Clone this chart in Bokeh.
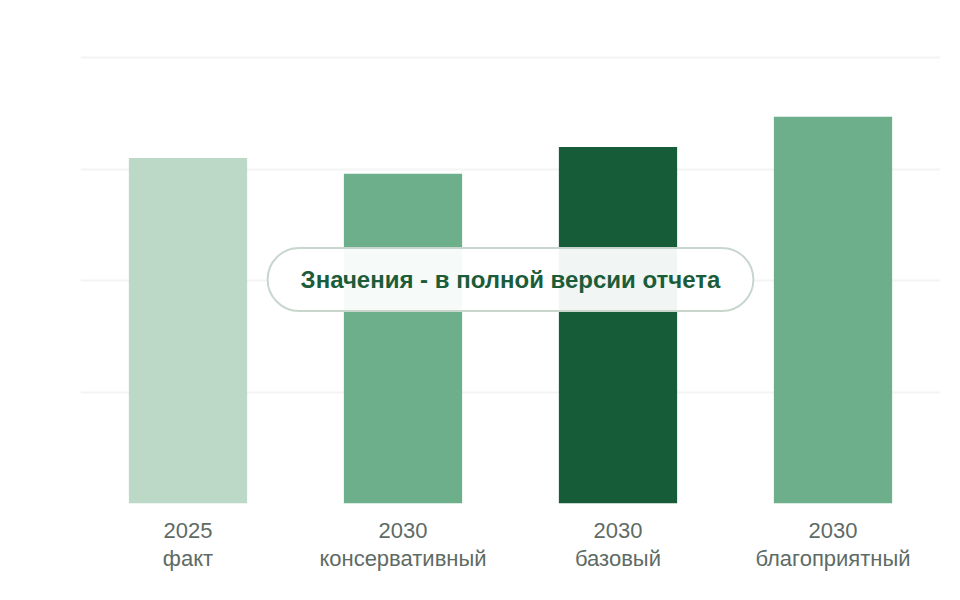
from bokeh.plotting import figure
from bokeh.models import ColumnDataSource, Label, FixedTicker
from bokeh.embed import file_html
from bokeh.resources import INLINE

# categories (year + scenario) and bar heights
years = ['2025', '2030', '2030', '2030']
scenarios = ['факт', 'консервативный', 'базовый', 'благоприятный']
values = [3.10, 2.96, 3.20, 3.47]
colors = ['#bcd9c7', '#6daf8a', '#165c38', '#6daf8a']
grid_ticks = [0, 1, 2, 3, 4]

cats = [y + '\n' + s for y, s in zip(years, scenarios)]
source = ColumnDataSource(data=dict(cat=cats, val=values, color=colors))

p = figure(
    width=944,
    height=584,
    x_range=cats,
    y_range=(0, 4.02),
    output_backend="svg",
    toolbar_location=None,
    min_border_left=80,
    min_border_right=4,
    min_border_top=55,
    min_border_bottom=81,
)

p.vbar(x='cat', top='val', width=0.55, color='color', line_width=0, source=source)

# axes: only category labels, no lines
p.yaxis.visible = False
p.xaxis.axis_line_color = None
p.xaxis.major_tick_line_color = None
p.xaxis.minor_tick_line_color = None
p.xaxis.major_label_text_font = 'Liberation Sans'
p.xaxis.major_label_text_font_size = '22px'
p.xaxis.major_label_text_color = '#5e6b65'
p.xaxis.major_label_text_line_height = 1.12
p.xaxis.major_label_standoff = 8

p.xgrid.grid_line_color = None
p.ygrid.ticker = FixedTicker(ticks=grid_ticks)
p.ygrid.grid_line_color = '#f3f4f3'
p.ygrid.grid_line_width = 2
p.outline_line_color = None

# overlay pill in the middle (screen units are relative to the plot frame)
note = Label(
    x=430, y=224, x_units='screen', y_units='screen',
    text='Значения - в полной версии отчета',
    text_font='Liberation Sans', text_font_style='bold',
    text_font_size='24px', text_color='#1b5c3a',
    text_align='center', text_baseline='middle',
    background_fill_color='white', background_fill_alpha=0.94,
    border_line_color='#c9d6ce', border_line_width=2,
    border_radius=32,
    padding=dict(left=33, right=33, top=18, bottom=18),
)
p.add_layout(note)

open("out.html", "w").write(file_html(p, INLINE))
